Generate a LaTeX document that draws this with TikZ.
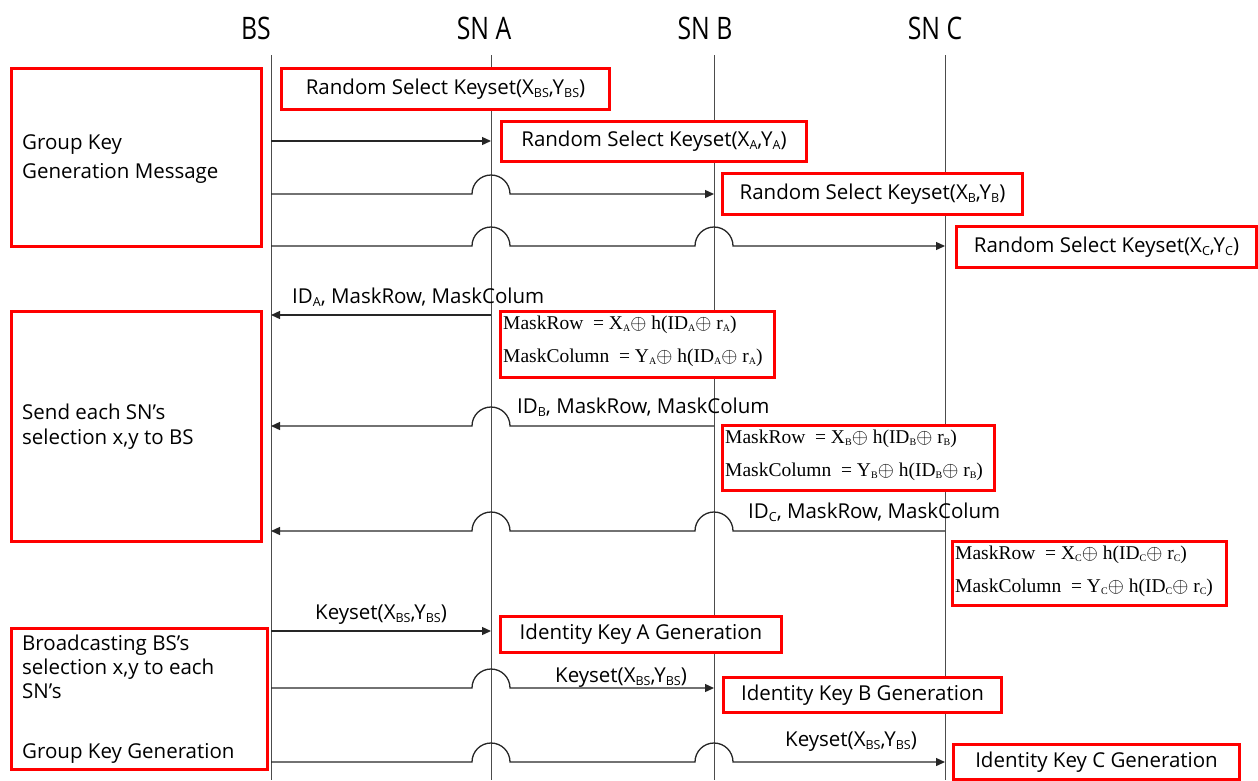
\documentclass[tikz,border=0pt]{standalone}
\usepackage{fontspec}
\setmainfont{Open Sans}
\newfontfamily\formfont{Liberation Serif}
\usetikzlibrary{arrows.meta}
% small subscript sitting low, as used in the key expressions
\newcommand\fsub[1]{\raisebox{-1.5pt}{\fontsize{10}{10}\selectfont #1}}
\newcommand\tsub[1]{\raisebox{-3pt}{\fontsize{12.5}{12.5}\selectfont #1}}
\begin{document}
\begin{tikzpicture}[x=1pt,y=-1pt,
  lifeline/.style={draw=black!70, line width=1pt},
  msg/.style={draw=black!85, line width=1.3pt, -{Triangle[length=9pt,width=8pt]}},
  head/.style={font=\fontsize{31}{31}\selectfont, inner sep=0pt},
  redbox/.style={draw=red, line width=3pt, fill=white, inner sep=0pt, anchor=north west},
  boxtxt/.style={font=\fontsize{20.5}{24}\selectfont, inner sep=0pt},
  sidetxt/.style={font=\fontsize{20.5}{29}\selectfont, inner sep=0pt, anchor=north west, align=left},
  lbl/.style={font=\fontsize{20.5}{24}\selectfont, inner sep=0pt, anchor=south west},
  form/.style={font=\formfont\fontsize{19.5}{33}\selectfont, inner sep=0pt, anchor=north west, align=left}
]
\useasboundingbox (0,0) rectangle (1258,780);
\def\hr{19}

% lifeline headers
\node[head] (hBS) at (256,28) {\scalebox{0.8}[1]{BS}};
\node[head] (hA)  at (484,28) {\scalebox{0.8}[1]{SN A}};
\node[head] (hB)  at (705,28) {\scalebox{0.8}[1]{SN B}};
\node[head] (hC)  at (935,28) {\scalebox{0.8}[1]{SN C}};

% lifelines
\coordinate (BStop) at (271,55); \coordinate (BSbot) at (271,780);
\coordinate (Atop) at (491,55);  \coordinate (Abot) at (491,780);
\coordinate (Btop) at (714,55);  \coordinate (Bbot) at (714,780);
\coordinate (Ctop) at (945,55);  \coordinate (Cbot) at (945,780);
\draw[lifeline] (BStop) -- (BSbot);
\draw[lifeline] (Atop) -- (Abot);
\draw[lifeline] (Btop) -- (Bbot);
\draw[lifeline] (Ctop) -- (Cbot);

% phase boxes on the left
\node[redbox, minimum width=250, minimum height=178] (p1) at (10,67) {};
\node[sidetxt] (p1t) at (22,134) {Group Key\\Generation Message};
\node[redbox, minimum width=250, minimum height=230] (p2) at (10,310) {};
\node[sidetxt, font=\fontsize{20.5}{25}\selectfont] (p2t) at (22,404) {Send each SN’s\\selection x,y to BS};
\node[redbox, minimum width=256, minimum height=141] (p3) at (10,627) {};
\node[sidetxt, font=\fontsize{20.5}{24}\selectfont] (p3t) at (22,635) {Broadcasting BS’s\\selection x,y to each\\SN’s};
\node[sidetxt] (p3u) at (22,743) {Group Key Generation};

% key selection boxes
\node[redbox, minimum width=328, minimum height=41] (kBS) at (280,67) {};
\node[boxtxt] at (kBS.center) {Random Select Keyset(X\tsub{BS},Y\tsub{BS})};
\node[redbox, minimum width=305, minimum height=40] (kA) at (500,120) {};
\node[boxtxt] at (kA.center) {Random Select Keyset(X\tsub{A},Y\tsub{A})};
\node[redbox, minimum width=300, minimum height=41] (kB) at (721,172) {};
\node[boxtxt] at (kB.center) {Random Select Keyset(X\tsub{B},Y\tsub{B})};
\node[redbox, minimum width=300, minimum height=41] (kC) at (955,225) {};
\node[boxtxt] at (kC.center) {Random Select Keyset(X\tsub{C},Y\tsub{C})};

% group key generation messages
\coordinate (m1s) at (271,141); \coordinate (m1e) at (491,141);
\draw[msg] (m1s) -- (m1e);
\coordinate (m2s) at (271,194); \coordinate (m2e) at (714,194);
\draw[msg] (m2s) -- (491-\hr,194) arc[start angle=180,end angle=360,radius=\hr] -- (m2e);
\coordinate (m3s) at (271,246); \coordinate (m3e) at (945,246);
\draw[msg] (m3s) -- (491-\hr,246) arc[start angle=180,end angle=360,radius=\hr]
  -- (714-\hr,246) arc[start angle=180,end angle=360,radius=\hr] -- (m3e);

% replies with masked selections
\coordinate (r1s) at (491,315); \coordinate (r1e) at (271,315);
\draw[msg] (r1s) -- (r1e);
\node[lbl] (l1) at (292,307) {ID\tsub{A}, MaskRow, MaskColum};
\coordinate (r2s) at (714,426); \coordinate (r2e) at (271,426);
\draw[msg] (r2s) -- (491+\hr,426) arc[start angle=0,end angle=-180,radius=\hr] -- (r2e);
\node[lbl] (l2) at (517,417) {ID\tsub{B}, MaskRow, MaskColum};
\coordinate (r3s) at (945,531); \coordinate (r3e) at (271,531);
\draw[msg] (r3s) -- (714+\hr,531) arc[start angle=0,end angle=-180,radius=\hr]
  -- (491+\hr,531) arc[start angle=0,end angle=-180,radius=\hr] -- (r3e);
\node[lbl] (l3) at (748,522) {ID\tsub{C}, MaskRow, MaskColum};

% masking expressions
\node[redbox, minimum width=274, minimum height=66] (fA) at (499,310) {};
\node[form] at (503,316) {MaskRow\ \ = X\fsub{A}$\oplus$ h(ID\fsub{A}$\oplus$ r\fsub{A})\\MaskColumn\ \ = Y\fsub{A}$\oplus$ h(ID\fsub{A}$\oplus$ r\fsub{A})};
\node[redbox, minimum width=272, minimum height=65] (fB) at (721,424) {};
\node[form] at (725,430) {MaskRow\ \ = X\fsub{B}$\oplus$ h(ID\fsub{B}$\oplus$ r\fsub{B})\\MaskColumn\ \ = Y\fsub{B}$\oplus$ h(ID\fsub{B}$\oplus$ r\fsub{B})};
\node[redbox, minimum width=274, minimum height=64] (fC) at (951,540) {};
\node[form] at (955,546) {MaskRow\ \ = X\fsub{C}$\oplus$ h(ID\fsub{C}$\oplus$ r\fsub{C})\\MaskColumn\ \ = Y\fsub{C}$\oplus$ h(ID\fsub{C}$\oplus$ r\fsub{C})};

% identity key generation
\node[redbox, minimum width=281, minimum height=36] (iA) at (499,615) {};
\node[boxtxt] at (iA.center) {Identity Key A Generation};
\node[redbox, minimum width=278, minimum height=35] (iB) at (722,676) {};
\node[boxtxt] at (iB.center) {Identity Key B Generation};
\node[redbox, minimum width=286, minimum height=35] (iC) at (952,743) {};
\node[boxtxt] at (iC.center) {Identity Key C Generation};

% keyset broadcast
\coordinate (k1s) at (271,631); \coordinate (k1e) at (491,631);
\draw[msg] (k1s) -- (k1e);
\node[lbl] (b1) at (315,625) {Keyset(X\tsub{BS},Y\tsub{BS})};
\coordinate (k2s) at (271,688); \coordinate (k2e) at (714,688);
\draw[msg] (k2s) -- (491-\hr,688) arc[start angle=180,end angle=360,radius=\hr] -- (k2e);
\node[lbl] (b2) at (555,688) {Keyset(X\tsub{BS},Y\tsub{BS})};
\coordinate (k3s) at (271,762); \coordinate (k3e) at (945,762);
\draw[msg] (k3s) -- (491-\hr,762) arc[start angle=180,end angle=360,radius=\hr]
  -- (714-\hr,762) arc[start angle=180,end angle=360,radius=\hr] -- (k3e);
\node[lbl] (b3) at (785,752) {Keyset(X\tsub{BS},Y\tsub{BS})};
\end{tikzpicture}
\end{document}
